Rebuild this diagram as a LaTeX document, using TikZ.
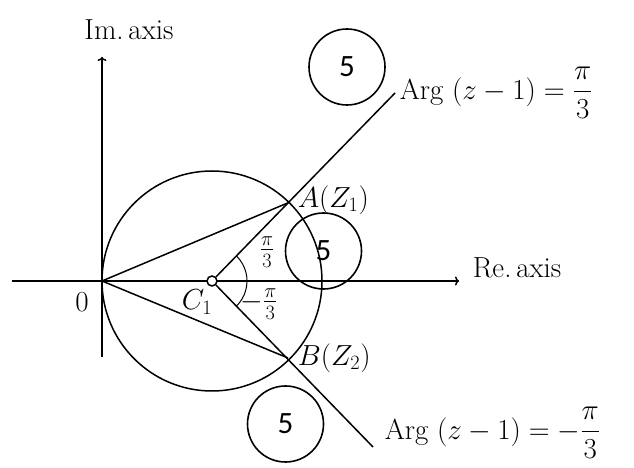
\RequirePackage{fix-cm}
\documentclass[tikz,border=0pt]{standalone}
\usepackage{amsmath,amssymb}
\usepackage{fontspec}
\newfontfamily\numfont{Carlito}
\usetikzlibrary{positioning,calc,arrows.meta}

\begin{document}
\begin{tikzpicture}[
    x=1pt, y=1pt,
    line width=1.5pt,
    >={To[length=4pt,width=9pt]},
    markcircle/.style={draw, circle, line width=1.6pt, minimum size=76pt, inner sep=0pt, font=\fontsize{31}{36}\numfont},
    lbl/.style={font=\fontsize{29}{34}\selectfont, inner sep=1pt},
    centre/.style={draw, circle, fill=white, minimum size=10pt, inner sep=0pt}
]
\useasboundingbox (0,0) rectangle (634,468);

% points
\coordinate (O) at (102,187);
\coordinate (A) at (290,266);
\coordinate (B) at (288,110);
\coordinate (Ltop) at (395,375);
\coordinate (Lbot) at (373,21);
\coordinate (reL) at (12,187);
\coordinate (reR) at (459,187);
\coordinate (imB) at (102,111);
\coordinate (imT) at (102,411);

% axes
\draw[->] (reL) -- (reR);
\draw[->] (imB) -- (imT);
\node[lbl, anchor=west] (re) at (471,200) {Re.\,axis};
\node[lbl] (im) at (129,438) {Im.\,axis};

% circle and rays
\draw (212,187) circle (110pt);
\node[centre] (C1) at (212,187) {};
\draw (C1) -- (Ltop);
\draw (C1) -- (Lbot);
\draw (O) -- (A);
\draw (O) -- (B);
\draw[line width=1pt] ($(C1)+(-46:35pt)$) arc[start angle=-46, end angle=45, radius=35pt];

% labels
\node[lbl] (o) at (82,166) {$0$};
\node[lbl] (c) at (197,166) {$C_1$};
\node[lbl, inner sep=0pt] (p1) at (267,216) {$\frac{\pi}{3}$};
\node[lbl, inner sep=0pt] (p2) at (259,164) {$-\frac{\pi}{3}$};
\node[lbl, anchor=west] (a) at (296,268) {$A(Z_1)$};
\node[lbl, anchor=west] (b) at (296,110) {$B(Z_2)$};
\node[lbl, anchor=west] (argt) at (398,375) {Arg $(z-1)=\dfrac{\pi}{3}$};
\node[lbl, anchor=west] (argb) at (383,35) {Arg $(z-1)=-\dfrac{\pi}{3}$};

% marks
\node[markcircle] (m1) at (347,401) {5};
\node[markcircle] (m2) at (323.5,217) {5};
\node[markcircle] (m3) at (285.5,44) {5};
\end{tikzpicture}
\end{document}
